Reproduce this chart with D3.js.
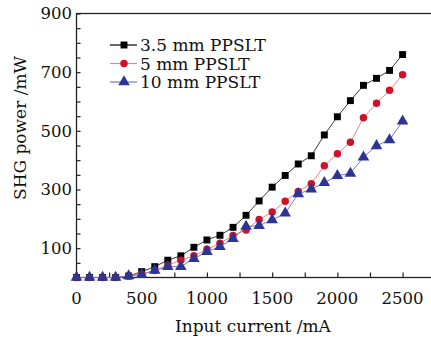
<!DOCTYPE html>
<html>
<head>
<meta charset="utf-8">
<script src="https://cdn.jsdelivr.net/npm/d3@7"></script>
<style>
  body { margin: 0; background: #fff; }
  svg { display: block; }
  text { font-family: "DejaVu Serif", serif; fill: #111; }
</style>
</head>
<body>
<svg id="chart" width="431" height="345"></svg>
<script>
// input current (mA)
const current = d3.range(0, 2501, 100);
// SHG power (mW) for each crystal length
const ppslt35 = [0, 0, 0, 0, 5, 20, 37, 59, 74, 103, 128, 144, 171, 212, 261, 308, 348, 387, 415, 486, 548, 603, 655, 679, 706, 760];
const ppslt5 = [0, 0, 0, 0, 5, 12, 24, 42, 59, 74, 96, 117, 143, 162, 198, 223, 260, 293, 320, 381, 422, 461, 545, 594, 638, 691];
const ppslt10 = [0, 0, 0, 0, 5, 10, 24, 37, 37, 64, 88, 105, 132, 174, 177, 196, 219, 285, 301, 323, 347, 355, 410, 449, 469, 533];

const seriesNames = ["3.5 mm PPSLT", "5 mm PPSLT", "10 mm PPSLT"];
const xTickLabels = [0, 500, 1000, 1500, 2000, 2500];
const yTickLabels = [100, 300, 500, 700, 900];

const series = [
  { name: seriesNames[0], values: ppslt35, line: "#3a3a3a", fill: "#000", shape: d3.symbolSquare },
  { name: seriesNames[1], values: ppslt5, line: "#e58a80", fill: "#d0112b", shape: d3.symbolCircle },
  { name: seriesNames[2], values: ppslt10, line: "#7a7cc0", fill: "#2c3592", shape: d3.symbolTriangle }
];

const svg = d3.select("#chart");
const x = d3.scaleLinear().domain([0, 2750]).range([76.5, 435.2]);
const y = d3.scaleLinear().domain([0, 900]).range([277.5, 13.5]);

// frame
svg.append("rect")
  .attr("x", x(0)).attr("y", y(900))
  .attr("width", x(2750) - x(0)).attr("height", y(0) - y(900))
  .attr("fill", "none").attr("stroke", "#222").attr("stroke-width", 1.3);

// x ticks (inward)
const gx = svg.append("g").attr("transform", `translate(0,${y(0)})`);
gx.call(d3.axisBottom(x).tickValues(d3.range(0, 2751, 250)).tickSize(-5).tickFormat(""));
gx.select(".domain").remove();
gx.selectAll("line").attr("stroke", "#222").attr("stroke-width", 1.2);
svg.selectAll(".xlab").data(xTickLabels).join("text")
  .attr("class", "xlab")
  .attr("x", d => x(d)).attr("y", 304)
  .attr("text-anchor", "middle")
  .attr("font-size", 16.5)
  .text(d => d);

// y ticks (inward)
const gy = svg.append("g").attr("transform", `translate(${x(0)},0)`);
gy.call(d3.axisLeft(y).tickValues(d3.range(50, 901, 50)).tickSize(-4).tickFormat(""));
gy.select(".domain").remove();
gy.selectAll("line").attr("stroke", "#222").attr("stroke-width", 1.2);
svg.selectAll(".ylab").data(yTickLabels).join("text")
  .attr("class", "ylab")
  .attr("x", 72).attr("y", d => y(d))
  .attr("dy", "0.36em")
  .attr("text-anchor", "end")
  .attr("font-size", 16.5)
  .text(d => d);

// axis titles
svg.append("text")
  .attr("x", 253).attr("y", 332)
  .attr("text-anchor", "middle")
  .attr("font-size", 17)
  .text("Input current /mA");
svg.append("text")
  .attr("transform", "translate(26,128) rotate(-90)")
  .attr("text-anchor", "middle")
  .attr("font-size", 17)
  .text("SHG power /mW");

// lines and markers
const line = d3.line().x((d, i) => x(current[i])).y(d => y(d));
const sizes = [48, 44, 58];
series.forEach((s, k) => {
  svg.append("path")
    .datum(s.values)
    .attr("d", line)
    .attr("fill", "none")
    .attr("stroke", s.line)
    .attr("stroke-width", 1);
  svg.append("g").selectAll("path").data(s.values).join("path")
    .attr("transform", (d, i) => `translate(${x(current[i])},${y(d)})`)
    .attr("d", d3.symbol().type(s.shape).size(sizes[k]))
    .attr("fill", s.fill);
});

// legend
const legend = svg.append("g");
series.forEach((s, k) => {
  const ly = 45 + k * 18.5;
  legend.append("line")
    .attr("x1", 110).attr("x2", 137).attr("y1", ly).attr("y2", ly)
    .attr("stroke", k === 0 ? "#000" : s.line).attr("stroke-width", 1.2);
  legend.append("path")
    .attr("transform", `translate(124,${ly})`)
    .attr("d", d3.symbol().type(s.shape).size(sizes[k]))
    .attr("fill", s.fill);
  legend.append("text")
    .attr("x", 140).attr("y", ly).attr("dy", "0.36em")
    .attr("font-size", 17)
    .text(s.name);
});
</script>
</body>
</html>
